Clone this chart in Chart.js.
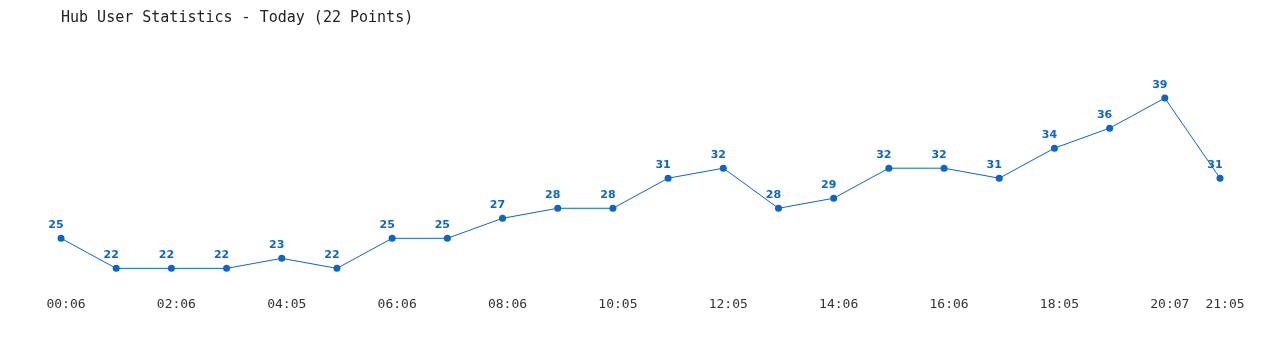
<!DOCTYPE html>
<html>
<head>
<meta charset="utf-8">
<script src="https://cdn.jsdelivr.net/npm/chart.js@4/dist/chart.umd.min.js"></script>
<style>
  body { margin: 0; background: #fff; }
  #wrap { width: 1280px; height: 350px; }
</style>
</head>
<body>
<div id="wrap"><canvas id="hubChart"></canvas></div>
<script>
// hub user counts, one point per hour
var times = ["00:06", "01:06", "02:06", "03:06", "04:05", "05:06", "06:06", "07:06", "08:06", "09:06", "10:05",
             "11:05", "12:05", "13:06", "14:06", "15:06", "16:06", "17:06", "18:05", "19:06", "20:07", "21:05"];
var users = [25, 22, 22, 22, 23, 22, 25, 25, 27, 28, 28, 31, 32, 28, 29, 32, 32, 31, 34, 36, 39, 31];

// write the value above each point
var valueLabels = {
    id: 'valueLabels',
    afterDatasetsDraw: function(chart) {
        var ctx = chart.ctx;
        var meta = chart.getDatasetMeta(0);
        ctx.save();
        ctx.font = 'bold 11px "DejaVu Sans"';
        ctx.fillStyle = '#0a66cc';
        ctx.textAlign = 'center';
        ctx.textBaseline = 'middle';
        meta.data.forEach(function(pt, i) {
            ctx.fillText(users[i], pt.x - 5, pt.y - 13);
        });
        ctx.restore();
    }
};

var chart = document.getElementById("hubChart").getContext("2d");

var myLineChart = new Chart(chart, {
    type: 'line',
    data: {
        labels: times,
        datasets: [{
            label: 'Users',
            data: users,
            borderColor: '#0a66cc',
            backgroundColor: '#0a66cc',
            borderWidth: 1,
            pointRadius: 3.5,
            pointBorderWidth: 0,
            tension: 0
        }]
    },
    options: {
        responsive: true,
        maintainAspectRatio: false,
        animation: false,
        layout: { padding: { left: 61, right: 60, top: 0, bottom: 30 } },
        plugins: {
            legend: { display: false },
            tooltip: { enabled: false },
            title: {
                display: true,
                text: 'Hub User Statistics - Today (22 Points)',
                align: 'start',
                color: '#222',
                font: { family: '"DejaVu Sans Mono"', size: 15, weight: 'normal' },
                padding: { top: 9, bottom: 21 }
            }
        },
        scales: {
            x: {
                offset: false,
                grid: { display: false, drawTicks: false },
                border: { display: false },
                ticks: {
                    autoSkip: false,
                    maxRotation: 0,
                    padding: 8,
                    labelOffset: 5,
                    color: '#333',
                    font: { family: '"DejaVu Sans Mono"', size: 13 },
                    callback: function(val, i) {
                        return (i % 2 === 0 || i === times.length - 1) ? times[i] : '';
                    }
                }
            },
            y: {
                display: false,
                min: 20,
                max: 44
            }
        }
    },
    plugins: [valueLabels]
});
</script>
</body>
</html>
